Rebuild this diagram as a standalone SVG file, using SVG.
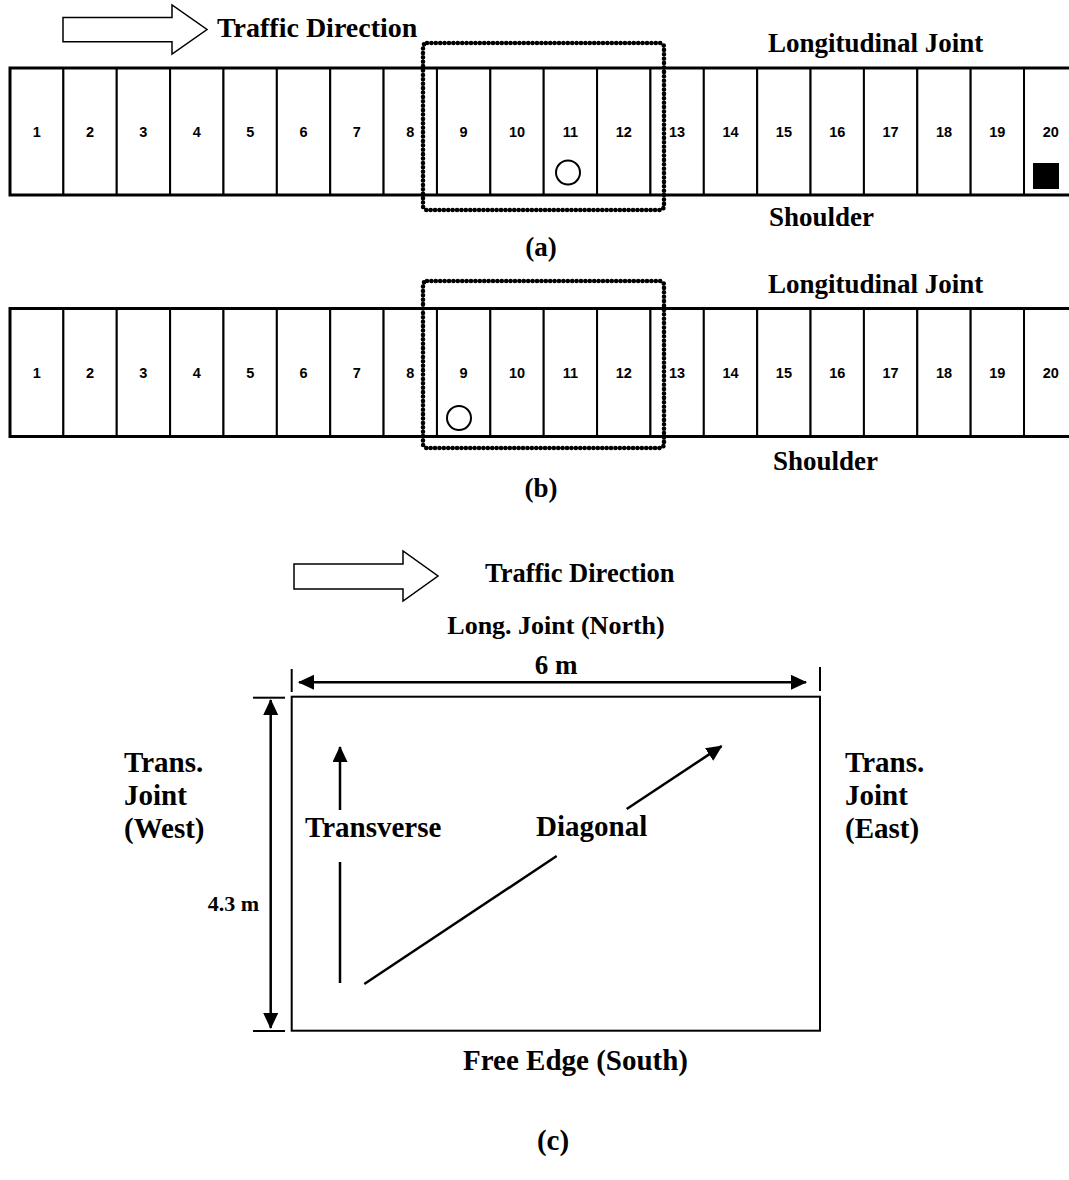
<svg xmlns="http://www.w3.org/2000/svg" width="1069" height="1180" viewBox="0 0 1069 1180">
<style>
.lbl{font-family:"Liberation Serif","Times New Roman",serif;font-weight:bold;font-size:27px;fill:#000}
.lbc{font-family:"Liberation Serif","Times New Roman",serif;font-weight:bold;font-size:29px;fill:#000}
.mid{text-anchor:middle}
.num{font-family:"Liberation Sans",Arial,sans-serif;font-weight:bold;font-size:14.5px;text-anchor:middle;fill:#000}
.cell{fill:#fff;stroke:#000;stroke-width:2}
.edge{stroke:#000;stroke-width:3;fill:none}
.dots{fill:none;stroke:#000;stroke-width:4.6;stroke-dasharray:0 4.4;stroke-linecap:round}
.hollow{fill:#fff;stroke:#000;stroke-width:1.5}
.ln{stroke:#000;stroke-width:2.5;fill:none}
.tick{stroke:#000;stroke-width:2;fill:none}
.mark{fill:none;stroke:#000;stroke-width:2}
</style>
<defs>
<marker id="ah" markerUnits="userSpaceOnUse" markerWidth="18" markerHeight="16" refX="15" refY="7.5" orient="auto-start-reverse" viewBox="0 0 18 16">
<path d="M0,0 L16,7.5 L0,15 z" fill="#000"/>
</marker>
</defs>
<rect width="1069" height="1180" fill="#fff"/>

<!-- (a) -->
<g id="a-traffic">
<polygon class="hollow" points="63,17.5 172,17.5 172,5 207,29.5 172,54 172,41.7 63,41.7"/>
<text class="lbl" x="217" y="37" style="font-size:28px">Traffic Direction</text>
</g>
<g id="a-strip">
<rect class="cell" x="10" y="68" width="53.37" height="127"/><text class="num" x="36.7" y="137">1</text>
<rect class="cell" x="63.37" y="68" width="53.37" height="127"/><text class="num" x="90.1" y="137">2</text>
<rect class="cell" x="116.74" y="68" width="53.37" height="127"/><text class="num" x="143.4" y="137">3</text>
<rect class="cell" x="170.11" y="68" width="53.37" height="127"/><text class="num" x="196.8" y="137">4</text>
<rect class="cell" x="223.48" y="68" width="53.37" height="127"/><text class="num" x="250.2" y="137">5</text>
<rect class="cell" x="276.85" y="68" width="53.37" height="127"/><text class="num" x="303.5" y="137">6</text>
<rect class="cell" x="330.22" y="68" width="53.37" height="127"/><text class="num" x="356.9" y="137">7</text>
<rect class="cell" x="383.59" y="68" width="53.37" height="127"/><text class="num" x="410.3" y="137">8</text>
<rect class="cell" x="436.96" y="68" width="53.37" height="127"/><text class="num" x="463.6" y="137">9</text>
<rect class="cell" x="490.33" y="68" width="53.37" height="127"/><text class="num" x="517" y="137">10</text>
<rect class="cell" x="543.7" y="68" width="53.37" height="127"/><text class="num" x="570.4" y="137">11</text>
<rect class="cell" x="597.07" y="68" width="53.37" height="127"/><text class="num" x="623.8" y="137">12</text>
<rect class="cell" x="650.44" y="68" width="53.37" height="127"/><text class="num" x="677.1" y="137">13</text>
<rect class="cell" x="703.81" y="68" width="53.37" height="127"/><text class="num" x="730.5" y="137">14</text>
<rect class="cell" x="757.18" y="68" width="53.37" height="127"/><text class="num" x="783.9" y="137">15</text>
<rect class="cell" x="810.55" y="68" width="53.37" height="127"/><text class="num" x="837.2" y="137">16</text>
<rect class="cell" x="863.92" y="68" width="53.37" height="127"/><text class="num" x="890.6" y="137">17</text>
<rect class="cell" x="917.29" y="68" width="53.37" height="127"/><text class="num" x="944" y="137">18</text>
<rect class="cell" x="970.66" y="68" width="53.37" height="127"/><text class="num" x="997.3" y="137">19</text>
<rect class="cell" x="1024.03" y="68" width="53.37" height="127"/><text class="num" x="1050.7" y="137">20</text>
<path class="edge" d="M1080,68 H10 V195 H1080"/>
<circle class="mark" cx="568" cy="172.5" r="12"/>
<rect x="1033" y="163" width="26" height="26" fill="#000"/>
</g>
<g id="a-window"><rect class="dots" x="423" y="43" width="241" height="167" rx="4"/></g>
<g id="a-labels">
<text class="lbl" x="768" y="52">Longitudinal Joint</text>
<text class="lbl" x="769" y="226">Shoulder</text>
<text class="lbl mid" x="541" y="256">(a)</text>
</g>

<!-- (b) -->
<g id="b-strip">
<rect class="cell" x="10" y="308.5" width="53.37" height="128"/><text class="num" x="36.7" y="378">1</text>
<rect class="cell" x="63.37" y="308.5" width="53.37" height="128"/><text class="num" x="90.1" y="378">2</text>
<rect class="cell" x="116.74" y="308.5" width="53.37" height="128"/><text class="num" x="143.4" y="378">3</text>
<rect class="cell" x="170.11" y="308.5" width="53.37" height="128"/><text class="num" x="196.8" y="378">4</text>
<rect class="cell" x="223.48" y="308.5" width="53.37" height="128"/><text class="num" x="250.2" y="378">5</text>
<rect class="cell" x="276.85" y="308.5" width="53.37" height="128"/><text class="num" x="303.5" y="378">6</text>
<rect class="cell" x="330.22" y="308.5" width="53.37" height="128"/><text class="num" x="356.9" y="378">7</text>
<rect class="cell" x="383.59" y="308.5" width="53.37" height="128"/><text class="num" x="410.3" y="378">8</text>
<rect class="cell" x="436.96" y="308.5" width="53.37" height="128"/><text class="num" x="463.6" y="378">9</text>
<rect class="cell" x="490.33" y="308.5" width="53.37" height="128"/><text class="num" x="517" y="378">10</text>
<rect class="cell" x="543.7" y="308.5" width="53.37" height="128"/><text class="num" x="570.4" y="378">11</text>
<rect class="cell" x="597.07" y="308.5" width="53.37" height="128"/><text class="num" x="623.8" y="378">12</text>
<rect class="cell" x="650.44" y="308.5" width="53.37" height="128"/><text class="num" x="677.1" y="378">13</text>
<rect class="cell" x="703.81" y="308.5" width="53.37" height="128"/><text class="num" x="730.5" y="378">14</text>
<rect class="cell" x="757.18" y="308.5" width="53.37" height="128"/><text class="num" x="783.9" y="378">15</text>
<rect class="cell" x="810.55" y="308.5" width="53.37" height="128"/><text class="num" x="837.2" y="378">16</text>
<rect class="cell" x="863.92" y="308.5" width="53.37" height="128"/><text class="num" x="890.6" y="378">17</text>
<rect class="cell" x="917.29" y="308.5" width="53.37" height="128"/><text class="num" x="944" y="378">18</text>
<rect class="cell" x="970.66" y="308.5" width="53.37" height="128"/><text class="num" x="997.3" y="378">19</text>
<rect class="cell" x="1024.03" y="308.5" width="53.37" height="128"/><text class="num" x="1050.7" y="378">20</text>
<path class="edge" d="M1080,308.5 H10 V436.5 H1080"/>
<circle class="mark" cx="459" cy="418" r="12"/>
</g>
<g id="b-window"><rect class="dots" x="423" y="281" width="241" height="167" rx="4"/></g>
<g id="b-labels">
<text class="lbl" x="768" y="293">Longitudinal Joint</text>
<text class="lbl" x="773" y="470">Shoulder</text>
<text class="lbl mid" x="541" y="497">(b)</text>
</g>

<!-- (c) -->
<g id="c-traffic">
<polygon class="hollow" points="294,564 403,564 403,551 438,576 403,601 403,589 294,589"/>
<text class="lbc" x="485" y="582" style="font-size:26.5px">Traffic Direction</text>
</g>
<g id="c-slab">
<rect x="291.7" y="696.7" width="528.3" height="334" fill="none" stroke="#000" stroke-width="2"/>
</g>
<g id="c-labels">
<text class="lbc mid" x="556" y="634" style="font-size:26px">Long. Joint (North)</text>
<text class="lbc mid" x="556" y="674" style="font-size:27px">6 m</text>
<text class="lbc" x="124" y="772">Trans.</text>
<text class="lbc" x="124" y="805">Joint</text>
<text class="lbc" x="124" y="838">(West)</text>
<text class="lbc" x="845" y="772">Trans.</text>
<text class="lbc" x="845" y="805">Joint</text>
<text class="lbc" x="845" y="838">(East)</text>
<text class="lbc" x="259" y="911" style="font-size:22px;text-anchor:end">4.3 m</text>
<text class="lbc" x="305" y="837">Transverse</text>
<text class="lbc" x="536" y="836">Diagonal</text>
<text class="lbc" x="463" y="1070">Free Edge (South)</text>
<text class="lbc mid" x="553" y="1150">(c)</text>
</g>
<g id="connectors">
<line class="tick" x1="291.7" y1="669" x2="291.7" y2="692"/>
<line class="tick" x1="820" y1="667" x2="820" y2="691"/>
<line class="tick" x1="253" y1="697.7" x2="285" y2="697.7"/>
<line class="tick" x1="253" y1="1031" x2="285" y2="1031"/>
<line class="ln" x1="299" y1="682.3" x2="806" y2="682.3" marker-start="url(#ah)" marker-end="url(#ah)"/>
<line class="ln" x1="270.7" y1="700" x2="270.7" y2="1028" marker-start="url(#ah)" marker-end="url(#ah)"/>
<line class="ln" x1="340" y1="983" x2="340" y2="862"/>
<line class="ln" x1="340" y1="810" x2="340" y2="747" marker-end="url(#ah)"/>
<line class="ln" x1="364.3" y1="984" x2="556.7" y2="856"/>
<line class="ln" x1="626.7" y1="809" x2="721.6" y2="746.1" marker-end="url(#ah)"/>
</g>
</svg>
